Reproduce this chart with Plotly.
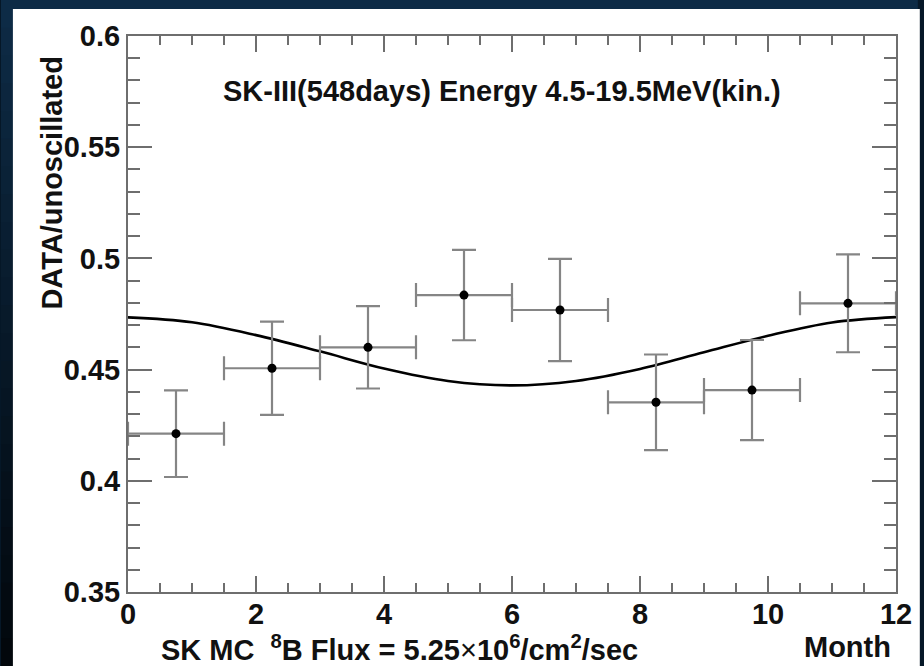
import plotly.graph_objects as go

# ---- data ----
month_center = [0.75, 2.25, 3.75, 5.25, 6.75, 8.25, 9.75, 11.25]
month_halfwidth = [0.75, 0.75, 0.75, 0.75, 0.75, 0.75, 0.75, 0.75]
ratio = [0.4212, 0.4506, 0.4600, 0.4835, 0.4768, 0.4353, 0.4408, 0.4798]
ratio_err = [0.0195, 0.0210, 0.0185, 0.0203, 0.0230, 0.0215, 0.0225, 0.0220]

curve_month = [0, 1, 2, 3, 4, 5, 6, 7, 8, 9, 10, 11, 12]
curve_ratio = [0.4735, 0.4713, 0.4655, 0.4582, 0.4505, 0.4449, 0.4429,
               0.4449, 0.4503, 0.4578, 0.4652, 0.4712, 0.4736]

x_ticks = [0, 2, 4, 6, 8, 10, 12]
y_ticks = [0.35, 0.4, 0.45, 0.5, 0.55, 0.6]
y_ticktext = ["0.35", "0.4", "0.45", "0.5", "0.55", "0.6"]

title_text = "SK-III(548days) Energy 4.5-19.5MeV(kin.)"
xlabel_left = "SK MC  <sup>8</sup>B Flux = 5.25<span style='font-weight:normal'>×</span>10<sup>6</sup>/cm<sup>2</sup>/sec"
xlabel_right = "Month"
ylabel = "DATA/unoscillated"

# ---- layout geometry (pixels) ----
W, H = 924, 666
L, R, T, B = 128, 22, 36, 74
pw, ph = W - L - R, H - T - B

def px_x(p):
    return (p - L) / pw

def px_y(p):
    return (H - B - p) / ph

FONT = "Liberation Sans, Arial, Helvetica, sans-serif"
AX = "#6e6e6e"
ERR = "#858585"

fig = go.Figure()

fig.add_trace(go.Scatter(
    x=curve_month, y=curve_ratio, mode="lines",
    line=dict(color="black", width=2.6, shape="spline", smoothing=1.0),
    hoverinfo="skip", showlegend=False,
))

fig.add_trace(go.Scatter(
    x=month_center, y=ratio, mode="markers",
    marker=dict(color="black", size=9),
    error_x=dict(type="data", array=month_halfwidth, color=ERR, thickness=2.2, width=12),
    error_y=dict(type="data", array=ratio_err, color=ERR, thickness=2.2, width=12),
    showlegend=False,
))

# background: dark gradient bands then white panel
shapes = []
top_c = (13, 43, 70)
bot_c = (2, 7, 12)
nb = 24
for i in range(nb):
    f = i / (nb - 1)
    c = tuple(int(round(top_c[k] + (bot_c[k] - top_c[k]) * f)) for k in range(3))
    y0 = H * i / nb
    y1 = H * (i + 1) / nb + 1
    shapes.append(dict(type="rect", xref="paper", yref="paper", layer="below",
                       x0=px_x(0), x1=px_x(W), y0=px_y(y1), y1=px_y(y0),
                       fillcolor="rgb(%d,%d,%d)" % c, line=dict(width=0)))
shapes.append(dict(type="rect", xref="paper", yref="paper", layer="below",
                   x0=px_x(12), x1=px_x(W + 2), y0=px_y(H + 2), y1=px_y(9),
                   fillcolor="white", line=dict(width=0)))

annotations = [
    dict(text=title_text, xref="paper", yref="paper", x=px_x(505), y=px_y(91),
         xanchor="center", yanchor="middle", showarrow=False,
         font=dict(family=FONT, size=29, color="#111111", weight="bold")),
    dict(text=xlabel_left, xref="paper", yref="paper", x=px_x(159), y=px_y(648),
         xanchor="left", yanchor="middle", showarrow=False,
         font=dict(family=FONT, size=29, color="#111111", weight="bold")),
    dict(text=xlabel_right, xref="paper", yref="paper", x=px_x(899), y=px_y(647),
         xanchor="right", yanchor="middle", showarrow=False,
         font=dict(family=FONT, size=29, color="#111111", weight="bold")),
    dict(text=ylabel, xref="paper", yref="paper", x=px_x(51), y=px_y(183),
         xanchor="center", yanchor="middle", textangle=-90, showarrow=False,
         font=dict(family=FONT, size=29, color="#111111", weight="bold")),
]

fig.update_layout(
    width=W, height=H,
    margin=dict(l=L, r=R, t=T, b=B, pad=0),
    paper_bgcolor="rgb(6,24,40)",
    plot_bgcolor="white",
    shapes=shapes,
    annotations=annotations,
    showlegend=False,
    font=dict(family=FONT, color="#111111"),
)

fig.update_xaxes(
    range=[0, 12], tickvals=x_ticks, ticktext=[str(v) for v in x_ticks],
    showgrid=False, zeroline=False,
    showline=True, linecolor=AX, linewidth=2, mirror="ticks",
    ticks="inside", ticklen=16, tickwidth=2, tickcolor=AX,
    ticklabelstandoff=-5,
    tickfont=dict(family=FONT, size=29, color="#111111", weight="bold"),
    minor=dict(dtick=0.5, ticks="inside", ticklen=9, tickwidth=2, tickcolor=AX),
)
fig.update_yaxes(
    range=[0.35, 0.6], tickvals=y_ticks, ticktext=y_ticktext,
    showgrid=False, zeroline=False,
    showline=True, linecolor=AX, linewidth=2, mirror="ticks",
    ticks="inside", ticklen=24, tickwidth=2, tickcolor=AX,
    tickfont=dict(family=FONT, size=29, color="#111111", weight="bold"),
    minor=dict(dtick=0.01, ticks="inside", ticklen=12, tickwidth=2, tickcolor=AX),
)

fig.write_html("out.html")
